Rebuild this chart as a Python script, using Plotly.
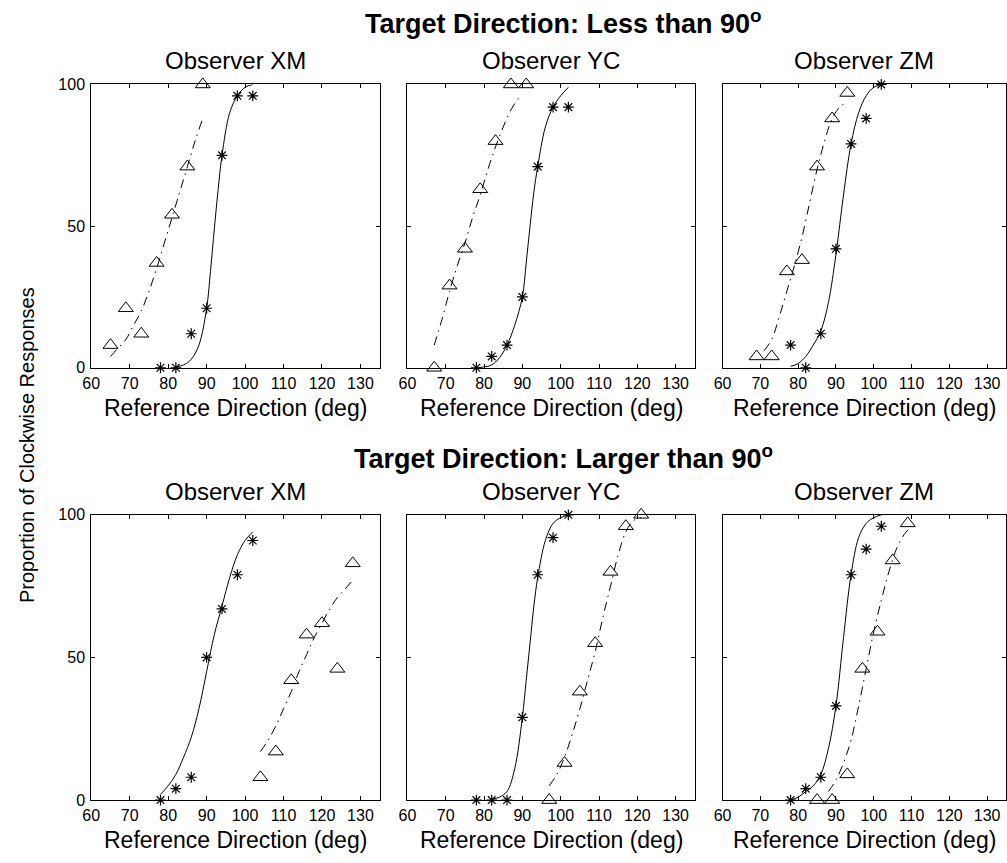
import plotly.graph_objects as go

W, H = 1007, 863

# ---------------- data ----------------
star_x = [78, 82, 86, 90, 94, 98, 102]

# Target direction less than 90
less_xm_star_y = [0, 0, 12, 21, 75, 96, 96]
less_xm_tri_x = [65, 69, 73, 77, 81, 85, 89]
less_xm_tri_y = [8, 21, 12, 37, 54, 71, 100]
less_xm_fit_star_x = [82, 84, 86, 88, 90, 91, 92, 93, 94, 96, 98, 100, 102]
less_xm_fit_star_y = [0.3, 1, 3, 8, 21, 34, 49, 63, 75, 90, 96, 99, 100]
less_xm_fit_tri_x = [65, 67, 69, 71, 73, 75, 77, 79, 81, 83, 85, 87, 89]
less_xm_fit_tri_y = [4, 7, 10, 15, 20, 27, 35, 44, 53, 62, 71, 80, 88]

less_yc_star_y = [0, 4, 8, 25, 71, 92, 92]
less_yc_tri_x = [67, 71, 75, 79, 83, 87, 91]
less_yc_tri_y = [0, 29, 42, 63, 80, 100, 100]
less_yc_fit_star_x = [78, 80, 82, 84, 86, 88, 90, 91, 92, 93, 94, 96, 98, 100, 102]
less_yc_fit_star_y = [0, 0.3, 1, 3.5, 8, 15, 25, 37, 50, 62, 71, 85, 92, 96, 99]
less_yc_fit_tri_x = [67, 69, 71, 73, 75, 77, 79, 81, 83, 85, 87, 89, 90]
less_yc_fit_tri_y = [8, 17, 27, 36, 44, 53, 61, 70, 78, 85, 91, 95, 96]

less_zm_star_y = [8, 0, 12, 42, 79, 88, 100]
less_zm_tri_x = [69, 73, 77, 81, 85, 89, 93]
less_zm_tri_y = [4, 4, 34, 38, 71, 88, 97]
less_zm_fit_star_x = [78, 80, 82, 84, 86, 88, 90, 92, 94, 96, 98, 100, 102]
less_zm_fit_star_y = [0.5, 1.5, 4, 8, 13, 23, 40, 61, 79, 90, 96, 99, 100]
less_zm_fit_tri_x = [71, 73, 75, 77, 79, 81, 83, 85, 87, 89, 91, 92]
less_zm_fit_tri_y = [6, 10, 18, 27, 36, 46, 58, 70, 80, 88, 92, 93]

# Target direction larger than 90
larger_xm_star_y = [0, 4, 8, 50, 67, 79, 91]
larger_xm_tri_x = [104, 108, 112, 116, 120, 124, 128]
larger_xm_tri_y = [8, 17, 42, 58, 62, 46, 83]
larger_xm_fit_star_x = [78, 80, 82, 84, 86, 88, 90, 92, 94, 96, 98, 100, 102]
larger_xm_fit_star_y = [2, 5, 9, 15, 22, 32, 45, 58, 68, 78, 86, 91, 94]
larger_xm_fit_tri_x = [104, 106, 108, 110, 112, 114, 116, 118, 120, 122, 124, 126, 128]
larger_xm_fit_tri_y = [17, 21, 26, 32, 38, 45, 51, 57, 62, 67, 71, 74, 77]

larger_yc_star_y = [0, 0, 0, 29, 79, 92, 100]
larger_yc_tri_x = [97, 101, 105, 109, 113, 117, 121]
larger_yc_tri_y = [0, 13, 38, 55, 80, 96, 100]
larger_yc_fit_star_x = [82, 84, 86, 88, 90, 91, 92, 93, 94, 96, 98, 100, 102]
larger_yc_fit_star_y = [0.3, 1, 3, 11, 29, 42, 55, 68, 78, 91, 97, 99, 100]
larger_yc_fit_tri_x = [97, 99, 101, 103, 105, 107, 109, 111, 113, 115, 117, 119, 121]
larger_yc_fit_tri_y = [5, 9, 15, 23, 32, 42, 52, 64, 75, 86, 94, 98, 99]

larger_zm_star_y = [0, 4, 8, 33, 79, 88, 96]
larger_zm_tri_x = [85, 89, 93, 97, 101, 105, 109]
larger_zm_tri_y = [0, 0, 9, 46, 59, 84, 97]
larger_zm_fit_star_x = [78, 80, 82, 84, 86, 88, 90, 92, 94, 96, 98, 100, 102]
larger_zm_fit_star_y = [0, 1, 3, 5, 9, 18, 33, 57, 79, 92, 97, 99, 100]
larger_zm_fit_tri_x = [88, 90, 92, 94, 96, 98, 100, 102, 104, 106, 108, 110]
larger_zm_fit_tri_y = [3, 7, 13, 21, 33, 46, 59, 70, 80, 88, 93, 96]

x_ticks = [60, 70, 80, 90, 100, 110, 120, 130]
y_ticks = [0, 50, 100]
observer_names = ["Observer XM", "Observer YC", "Observer ZM"]
row_titles = ["Target Direction: Less than 90<sup>o</sup>",
              "Target Direction: Larger than 90<sup>o</sup>"]
x_title = "Reference Direction (deg)"
y_title = "Proportion of Clockwise Responses"

panels = [
    (less_xm_star_y, less_xm_tri_x, less_xm_tri_y, less_xm_fit_star_x, less_xm_fit_star_y, less_xm_fit_tri_x, less_xm_fit_tri_y),
    (less_yc_star_y, less_yc_tri_x, less_yc_tri_y, less_yc_fit_star_x, less_yc_fit_star_y, less_yc_fit_tri_x, less_yc_fit_tri_y),
    (less_zm_star_y, less_zm_tri_x, less_zm_tri_y, less_zm_fit_star_x, less_zm_fit_star_y, less_zm_fit_tri_x, less_zm_fit_tri_y),
    (larger_xm_star_y, larger_xm_tri_x, larger_xm_tri_y, larger_xm_fit_star_x, larger_xm_fit_star_y, larger_xm_fit_tri_x, larger_xm_fit_tri_y),
    (larger_yc_star_y, larger_yc_tri_x, larger_yc_tri_y, larger_yc_fit_star_x, larger_yc_fit_star_y, larger_yc_fit_tri_x, larger_yc_fit_tri_y),
    (larger_zm_star_y, larger_zm_tri_x, larger_zm_tri_y, larger_zm_fit_star_x, larger_zm_fit_star_y, larger_zm_fit_tri_x, larger_zm_fit_tri_y),
]

# ---------------- layout geometry (pixels) ----------------
col_px = [(83, 374), (402, 692), (720, 1006)]
row_px = [(78, 367), (517, 808)]

FONT = "Liberation Sans, Arial, Helvetica, sans-serif"

fig = go.Figure()
layout = dict(
    width=W, height=H, margin=dict(l=0, r=0, t=0, b=0),
    paper_bgcolor="white", plot_bgcolor="white", showlegend=False,
    font=dict(family=FONT, color="black"),
)

annotations = []
for i, (sy, tx, ty, fsx, fsy, ftx, fty) in enumerate(panels):
    r, c = divmod(i, 3)
    n = i + 1
    xa = "x" if n == 1 else f"x{n}"
    ya = "y" if n == 1 else f"y{n}"
    x0, x1 = col_px[c]
    y0, y1 = row_px[r]
    axis_common = dict(
        showline=True, linecolor="black", linewidth=1, mirror="allticks",
        ticks="inside", ticklen=4, tickwidth=1, tickcolor="black",
        showgrid=False, zeroline=False, fixedrange=True,
        tickfont=dict(family=FONT, size=16, color="black"),
    )
    layout["xaxis" if n == 1 else f"xaxis{n}"] = dict(
        axis_common, domain=[x0 / W, x1 / W], range=[60, 135],
        tickvals=x_ticks, anchor=ya, ticklabelstandoff=1,
    )
    layout["yaxis" if n == 1 else f"yaxis{n}"] = dict(
        axis_common, domain=[1 - y1 / H, 1 - y0 / H], range=[0, 100],
        tickvals=y_ticks, anchor=xa, showticklabels=(c == 0), ticklabelstandoff=2,
    )
    # fitted curves
    fig.add_trace(go.Scatter(x=fsx, y=fsy, mode="lines", xaxis=xa, yaxis=ya,
                             line=dict(color="black", width=1, shape="spline"),
                             hoverinfo="skip"))
    fig.add_trace(go.Scatter(x=ftx, y=fty, mode="lines", xaxis=xa, yaxis=ya,
                             line=dict(color="black", width=1, shape="spline",
                                       dash="9px,5px,1.5px,5px"),
                             hoverinfo="skip"))
    # data points
    fig.add_trace(go.Scatter(x=star_x, y=sy, mode="markers", xaxis=xa, yaxis=ya,
                             cliponaxis=False,
                             marker=dict(symbol="asterisk-open", size=9, color="black",
                                         line=dict(color="black", width=1.2))))
    fig.add_trace(go.Scatter(x=tx, y=ty, mode="markers", xaxis=xa, yaxis=ya,
                             cliponaxis=False,
                             marker=dict(symbol="triangle-up-open", size=13, color="black",
                                         line=dict(color="black", width=1))))
    cx = (x0 + x1) / 2 / W
    # observer title
    annotations.append(dict(text=observer_names[c], x=cx, y=1 - (y0 - 24) / H,
                            xref="paper", yref="paper", showarrow=False,
                            xanchor="center", yanchor="middle",
                            font=dict(family=FONT, size=24, color="black")))
    # x axis title
    annotations.append(dict(text=x_title, x=cx, y=1 - (y1 + 41) / H,
                            xref="paper", yref="paper", showarrow=False,
                            xanchor="center", yanchor="middle",
                            font=dict(family=FONT, size=23, color="black")))

for r, t in enumerate(row_titles):
    yc = 14 if r == 0 else 458
    annotations.append(dict(text="<b>" + t + "</b>", x=560 / W, y=1 - yc / H,
                            xref="paper", yref="paper", showarrow=False,
                            xanchor="center", yanchor="middle",
                            font=dict(family=FONT, size=27, color="black")))

annotations.append(dict(text=y_title, x=18 / W, y=1 - 446 / H, textangle=-90,
                        xref="paper", yref="paper", showarrow=False,
                        xanchor="center", yanchor="middle",
                        font=dict(family=FONT, size=20, color="black")))

layout["annotations"] = annotations
fig.update_layout(**layout)
fig.write_html("out.html")
